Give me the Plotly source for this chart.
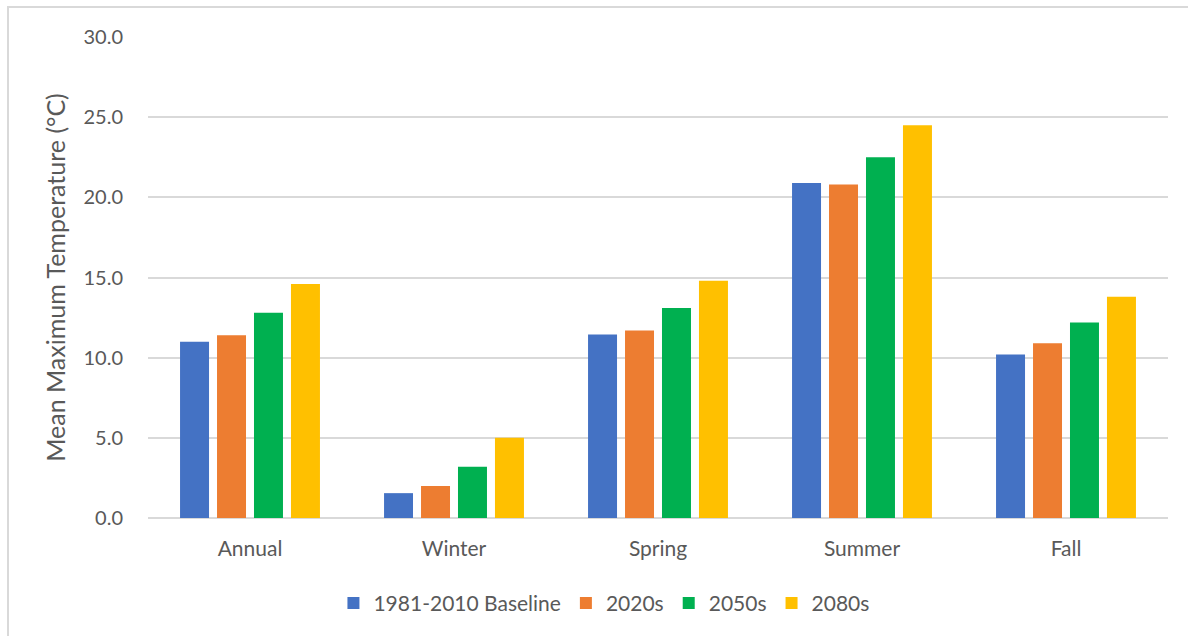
import plotly.graph_objects as go

seasons = ["Annual", "Winter", "Spring", "Summer", "Fall"]
baseline = [11.0, 1.55, 11.45, 20.9, 10.2]
s2020 = [11.4, 2.0, 11.7, 20.8, 10.9]
s2050 = [12.8, 3.2, 13.1, 22.5, 12.2]
s2080 = [14.6, 5.0, 14.8, 24.5, 13.8]
series_names = ["1981-2010 Baseline", "2020s", "2050s", "2080s"]
colors = ["#4472C4", "#ED7D31", "#00B050", "#FFC000"]
yticks = [0, 5, 10, 15, 20, 25, 30]

font_family = "Lato, 'Open Sans', sans-serif"
text_color = "#595959"

fig = go.Figure()
for name, vals, col in zip(series_names, [baseline, s2020, s2050, s2080], colors):
    fig.add_trace(go.Bar(x=seasons, y=vals, name=name, marker_color=col,
                         marker_line_width=0))

L, R, T, B = 148, 20, 37, 118
plot_w = 1188 - L - R
plot_h = 636 - T - B

fig.update_layout(
    width=1188, height=636,
    margin=dict(l=L, r=R, t=T, b=B),
    paper_bgcolor="white", plot_bgcolor="white",
    barmode="group", bargap=0.275, bargroupgap=0.216,
    font=dict(family=font_family, color=text_color, size=21),
    legend=dict(orientation="h", x=0.447, xanchor="center", y=-0.135, yanchor="top",
                font=dict(size=21, color=text_color), traceorder="normal",
                itemwidth=30),
    showlegend=True,
)
fig.update_yaxes(range=[0, 30], tickvals=yticks,
                 ticktext=[f"{v:.1f}" for v in yticks],
                 showgrid=True, gridcolor="#D9D9D9", gridwidth=2,
                 zeroline=True, zerolinecolor="#D9D9D9", zerolinewidth=2,
                 showline=False, ticks="", ticklabelstandoff=24,
                 tickfont=dict(size=20, color=text_color),
                 title=dict(text="Mean Maximum Temperature (°C)",
                            font=dict(size=25, color=text_color), standoff=10))
fig.update_xaxes(showline=False, ticks="", tickfont=dict(size=21, color=text_color),
                 ticklabelstandoff=16)

# light frame around the chart area
fig.add_shape(type="rect", xref="paper", yref="paper",
              x0=-(L - 8) / plot_w, x1=1.2, y0=-0.3, y1=1 + (T - 7) / plot_h,
              line=dict(color="#D9D9D9", width=2), fillcolor="rgba(0,0,0,0)",
              layer="below")

fig.write_html("out.html")
